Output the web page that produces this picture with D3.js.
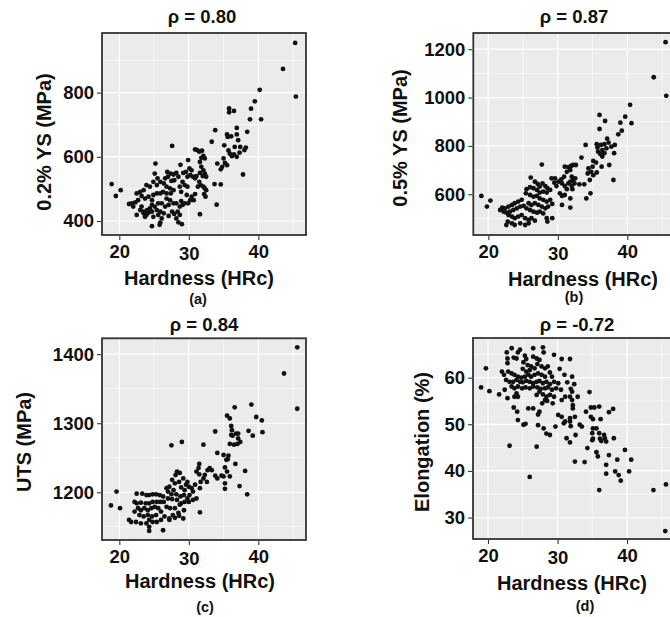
<!DOCTYPE html>
<html>
<head>
<meta charset="utf-8">
<script src="https://cdn.jsdelivr.net/npm/d3@7"></script>
<style>
  body { margin: 0; background: #fff; }
  text { font-family: Arial, "Liberation Sans", sans-serif; font-weight: bold; fill: #111; }
</style>
</head>
<body>
<div id="chart"></div>
<script>
const xTicks = [20, 30, 40];

// (a) hardness vs 0.2% YS
const hardA = [45.3,43.55,45.4,40.2,39.5,38.95,38.8,40.4,38.4,35.8,35.8,36.5,36.9,36.9,35.5,35.6,36.1,33.8,33.3,37.1,36.6,37.4,38.2,38.0,35.1,35.7,35.9,36.2,36.5,36.9,37.3,35.0,35.2,35.5,34.8,34.1,34.6,37.8,34.6,33.7,34.0,27.6,30.9,31.2,31.5,31.9,32.1,32.3,31.8,29.9,28.8,31.6,31.8,32.1,32.3,32.5,32.0,31.6,31.5,31.7,31.3,32.1,32.3,32.5,32.2,32.4,30.9,31.6,30.1,30.4,29.6,29.2,29.8,30.2,30.6,30.9,31.1,29.1,29.4,28.7,29.8,28.9,29.7,28.9,29.4,29.1,28.7,28.4,28.7,28.2,29.0,28.5,25.2,26.9,27.4,27.8,28.2,28.5,27.9,27.5,27.0,26.6,25.1,25.5,24.9,25.9,26.4,25.4,24.4,23.9,26.8,27.3,27.8,27.4,26.8,26.3,25.9,25.4,24.9,23.5,23.0,22.5,23.2,23.7,24.2,24.7,22.7,22.3,21.8,21.4,22.0,26.8,27.3,27.8,28.2,27.1,26.6,26.1,25.6,25.1,24.7,24.4,24.0,23.5,23.2,24.2,24.7,25.4,25.9,26.4,27.6,27.9,27.1,26.1,25.6,24.9,23.9,23.5,23.0,22.5,23.7,24.7,25.9,25.8,18.9,19.5,20.2,30.4,30.7,30.2,29.9];
const ys02 = [955,874,788,809,773,750,717,717,678,751,739,743,690,670,670,662,664,683,647,652,631,631,629,621,636,620,610,602,608,600,613,595,581,574,569,579,561,545,514,515,451,634,623,621,616,619,603,595,597,590,575,584,569,558,548,538,540,550,522,512,507,507,502,496,484,476,484,421,564,558,553,550,538,543,538,533,540,522,512,507,507,491,481,462,455,450,445,429,419,408,390,396,579,553,548,545,550,538,527,525,538,533,548,533,522,522,517,512,507,512,507,502,496,486,486,491,486,486,481,496,491,486,478,470,476,465,465,458,455,453,445,470,465,455,455,450,445,455,455,445,450,439,434,429,445,426,429,434,429,424,429,422,416,408,419,413,419,424,434,419,413,384,395,388,515,478,496,476,465,465,455];

// (b) hardness vs 0.5% YS
const hardB = [45.5,43.8,45.6,40.4,39.7,40.6,39.0,39.2,38.7,36.0,36.8,36.0,37.1,37.3,36.7,36.2,35.7,35.6,36.4,37.0,38.2,37.7,35.8,36.4,36.1,36.7,38.1,34.0,33.4,35.1,35.5,35.0,36.3,37.4,38.0,34.4,34.8,34.3,35.1,35.6,34.6,33.1,33.8,34.7,34.1,27.7,31.0,31.5,31.9,32.2,32.6,31.8,31.3,32.0,32.2,32.5,31.8,31.5,32.4,32.0,32.1,31.3,31.0,30.9,30.5,30.1,30.6,29.6,29.1,29.5,29.8,30.3,31.0,31.8,31.8,30.6,26.1,26.7,27.1,27.4,27.8,28.2,28.5,28.9,28.4,27.9,27.4,27.0,26.5,26.0,25.5,25.4,26.0,26.5,27.0,27.4,27.9,28.4,28.9,29.2,28.6,28.2,27.7,27.2,26.7,26.2,25.8,24.8,24.3,23.8,23.4,22.9,22.4,22.0,21.7,22.2,22.6,23.1,23.6,24.1,24.6,25.1,25.5,26.0,26.5,27.0,27.4,27.9,22.9,23.4,23.8,24.3,24.8,25.3,25.8,26.2,26.7,25.8,25.3,24.6,23.8,23.4,22.8,22.6,28.4,29.2,28.5,19.0,19.8,20.3,30.6];
const ys05 = [1229,1084,1007,970,921,894,896,863,848,928,903,870,830,814,807,804,793,807,783,790,804,797,776,756,767,770,770,804,752,738,731,714,714,721,659,707,693,686,679,690,659,641,641,604,583,723,714,712,717,721,721,700,693,673,659,666,652,645,645,634,621,621,634,673,662,652,645,666,666,648,634,604,597,583,545,556,669,652,643,632,645,634,625,618,607,611,607,618,625,629,621,604,597,590,593,583,577,570,577,560,549,542,549,556,563,556,563,577,570,563,556,549,542,545,535,528,524,528,535,542,549,552,542,535,528,524,528,521,514,508,501,508,514,501,494,501,491,480,473,480,473,480,487,473,501,501,487,593,549,574,593];

// (c) hardness vs UTS
const hardC = [45.6,43.7,45.6,39.0,36.6,35.5,35.9,39.7,40.5,33.8,36.1,36.2,36.8,37.1,38.6,39.2,40.6,36.1,36.3,35.9,36.5,37.0,37.4,37.1,27.5,29.0,32.1,34.1,35.0,35.4,35.7,35.6,36.7,38.1,37.3,38.4,35.2,35.5,33.8,34.1,34.7,35.0,35.2,35.9,35.2,33.0,32.7,33.3,32.3,32.1,32.6,31.7,31.5,31.4,31.1,31.5,31.6,30.9,30.4,30.6,31.1,31.6,28.3,28.7,28.1,29.2,29.8,29.6,30.0,29.4,28.9,28.6,28.0,27.6,27.2,27.8,26.8,27.0,27.5,28.2,28.8,29.3,29.8,30.1,30.6,30.0,29.4,28.9,28.3,27.6,27.0,26.3,25.8,25.3,24.8,24.3,23.9,23.3,22.5,26.4,25.9,25.4,24.8,24.3,23.8,23.1,22.5,22.2,26.8,27.3,28.0,28.7,29.3,28.5,27.7,27.2,26.5,26.0,25.6,25.1,24.6,24.1,23.6,23.1,22.7,22.2,22.9,23.5,24.1,24.7,25.3,26.0,25.4,24.8,24.3,23.9,23.1,22.4,21.7,21.4,24.3,24.3,26.3,27.2,28.0,28.6,29.2,18.8,19.6,20.1];
const uts = [1410,1372,1321,1327,1323,1311,1307,1309,1304,1288,1296,1290,1285,1285,1289,1282,1287,1283,1282,1270,1269,1270,1273,1278,1268,1273,1269,1257,1254,1247,1253,1248,1241,1231,1209,1197,1236,1230,1224,1220,1224,1223,1213,1223,1205,1235,1232,1232,1225,1220,1215,1215,1241,1235,1230,1226,1206,1211,1206,1201,1191,1171,1230,1228,1225,1220,1215,1211,1208,1203,1207,1215,1213,1218,1208,1203,1206,1201,1197,1197,1194,1196,1191,1196,1189,1186,1186,1184,1189,1190,1191,1194,1196,1197,1197,1196,1196,1198,1198,1186,1186,1186,1186,1184,1184,1185,1184,1186,1179,1177,1177,1182,1174,1170,1167,1162,1165,1172,1177,1179,1177,1174,1177,1174,1177,1172,1167,1165,1167,1165,1167,1160,1157,1157,1160,1155,1155,1157,1157,1160,1150,1144,1145,1160,1163,1166,1162,1181,1201,1177];

// (d) hardness vs elongation
const hardD = [45.5,45.6,43.8,36.0,26.0,23.1,27.0,19.0,19.7,20.2,21.6,22.4,22.7,23.4,24.3,24.6,26.5,27.9,28.0,22.8,23.7,24.1,25.3,25.5,25.1,22.8,26.5,27.0,27.4,29.5,30.6,31.8,25.7,26.2,26.7,27.1,27.7,28.2,28.6,26.0,25.5,25.0,22.0,22.3,22.9,23.4,23.8,24.3,24.8,25.3,25.8,26.2,26.7,27.2,27.7,28.2,28.9,29.2,30.3,31.0,32.1,22.6,23.1,23.6,24.1,24.6,25.0,25.5,26.0,26.5,27.0,27.4,27.9,28.4,28.9,29.5,30.1,31.4,32.4,23.4,23.8,24.3,24.9,25.4,26.0,26.5,27.1,27.6,28.2,28.6,29.2,29.8,30.5,31.9,32.1,32.9,34.6,24.1,23.8,22.8,24.3,27.0,27.4,27.9,28.4,28.9,29.5,28.2,27.8,28.5,29.3,30.6,31.1,31.8,32.1,32.2,32.2,23.7,24.2,25.8,26.5,27.4,27.2,24.3,25.1,25.4,27.2,28.0,28.4,28.9,29.7,30.1,30.6,30.9,31.1,31.8,31.9,31.8,32.5,32.6,31.3,31.8,33.2,33.5,34.1,34.8,35.3,36.0,34.8,35.1,36.2,37.4,38.0,34.3,35.6,35.8,35.1,35.6,35.0,35.0,35.1,36.0,36.1,36.3,36.7,36.8,37.0,38.1,37.4,38.6,39.7,40.6,37.0,38.3,38.8,39.1,37.0,40.3,32.5,33.9];
const elong = [27.1,37.1,35.9,35.9,38.7,45.4,45.2,57.9,62.0,57.1,56.4,57.4,65.4,66.3,65.4,66.0,66.3,66.5,65.4,64.1,64.3,64.1,64.7,64.0,63.3,63.1,64.5,64.1,63.8,64.9,64.0,64.0,62.7,62.4,62.0,62.9,62.4,62.0,62.4,61.6,61.3,61.9,61.3,60.6,61.3,60.9,60.6,60.2,60.0,60.2,60.6,60.2,60.6,60.9,60.6,60.2,61.1,60.2,61.9,60.6,60.2,59.5,59.1,59.1,59.5,59.1,59.0,59.3,59.1,58.8,59.1,59.3,58.8,59.1,58.6,59.1,58.8,59.0,58.6,58.1,57.7,58.1,57.7,57.9,57.7,58.1,57.9,57.6,57.7,57.9,57.4,57.7,57.4,57.6,57.0,55.9,56.9,56.6,55.9,55.6,55.9,56.3,57.0,56.4,55.9,56.3,55.9,55.2,54.5,55.0,54.5,55.2,55.9,55.9,55.2,54.1,53.4,53.6,52.7,53.4,53.4,52.7,52.1,50.9,49.9,50.1,49.8,49.1,48.0,47.7,49.5,52.0,51.6,50.2,50.6,50.6,49.6,51.3,51.6,47.7,47.0,46.1,49.9,49.5,52.7,53.6,53.6,53.8,51.6,51.1,51.1,52.6,53.3,44.9,44.0,43.1,49.1,49.1,48.1,46.6,46.9,48.1,46.9,46.4,47.7,47.0,46.3,47.0,43.4,42.4,44.5,42.4,41.3,39.9,39.1,37.9,39.4,39.9,42.0,41.9];

const width = 670;
const height = 617;

const svg = d3.select('#chart')
  .append('svg')
  .attr('width', width)
  .attr('height', height);

const panels = [
  { xs: hardA, ys: ys02, yTicks: [400, 600, 800], xDom: [17.51, 46.86], yDom: [356.4, 986],
    left: 102, right: 306, top: 33, bottom: 235,
    title: 'ρ = 0.80', titleX: 202, titleY: 23,
    yLabel: '0.2% YS (MPa)', yLabX: 51, yLabY: 142,
    xLabX: 199, xLabY: 285, tag: '(a)', tagX: 198, tagY: 304 },
  { xs: hardB, ys: ys05, yTicks: [600, 800, 1000, 1200], xDom: [17.84, 47.19], yDom: [431.6, 1267],
    left: 473.3, right: 677.3, top: 33, bottom: 235,
    title: 'ρ = 0.87', titleX: 574, titleY: 23,
    yLabel: '0.5% YS (MPa)', yLabX: 407, yLabY: 138,
    xLabX: 583, xLabY: 286, tag: '(b)', tagX: 574, tagY: 302 },
  { xs: hardC, ys: uts, yTicks: [1200, 1300, 1400], xDom: [17.51, 46.86], yDom: [1130.9, 1423],
    left: 102, right: 306, top: 338.3, bottom: 540,
    title: 'ρ = 0.84', titleX: 204, titleY: 331,
    yLabel: 'UTS (MPa)', yLabX: 31, yLabY: 442,
    xLabX: 200, xLabY: 588, tag: '(c)', tagX: 205, tagY: 612 },
  { xs: hardD, ys: elong, yTicks: [30, 40, 50, 60], xDom: [17.84, 47.19], yDom: [25.4, 68.5],
    left: 473, right: 677, top: 338, bottom: 539,
    title: 'ρ = -0.72', titleX: 577, titleY: 331,
    yLabel: 'Elongation (%)', yLabX: 429, yLabY: 442,
    xLabX: 572, xLabY: 590, tag: '(d)', tagX: 585, tagY: 611 }
];

// minor gridlines sit half way between the major ones
function minors(ticks, dom) {
  const step = ticks[1] - ticks[0];
  const out = [];
  for (let v = ticks[0] - step / 2; v <= dom[1]; v += step) {
    if (v >= dom[0]) out.push(v);
  }
  return out;
}

panels.forEach(function(p) {
  const g = svg.append('g');
  const x = d3.scaleLinear().domain(p.xDom).range([p.left, p.right]);
  const y = d3.scaleLinear().domain(p.yDom).range([p.bottom, p.top]);

  g.append('rect')
    .attr('x', p.left).attr('y', p.top)
    .attr('width', p.right - p.left).attr('height', p.bottom - p.top)
    .attr('fill', '#ebebeb');

  // grid
  g.selectAll('.xminor').data(minors(xTicks, p.xDom)).join('line')
    .attr('x1', d => x(d)).attr('x2', d => x(d))
    .attr('y1', p.top).attr('y2', p.bottom)
    .attr('stroke', '#fff').attr('stroke-width', 0.6);
  g.selectAll('.yminor').data(minors(p.yTicks, p.yDom)).join('line')
    .attr('y1', d => y(d)).attr('y2', d => y(d))
    .attr('x1', p.left).attr('x2', p.right)
    .attr('stroke', '#fff').attr('stroke-width', 0.6);
  g.selectAll('.xmajor').data(xTicks).join('line')
    .attr('x1', d => x(d)).attr('x2', d => x(d))
    .attr('y1', p.top).attr('y2', p.bottom)
    .attr('stroke', '#fff').attr('stroke-width', 1.2);
  g.selectAll('.ymajor').data(p.yTicks).join('line')
    .attr('y1', d => y(d)).attr('y2', d => y(d))
    .attr('x1', p.left).attr('x2', p.right)
    .attr('stroke', '#fff').attr('stroke-width', 1.2);

  // points
  g.append('g').attr('fill', '#111')
    .selectAll('circle')
    .data(p.xs.map((h, i) => [h, p.ys[i]]))
    .join('circle')
      .attr('cx', d => x(d[0]))
      .attr('cy', d => y(d[1]))
      .attr('r', 2.4);

  g.append('rect')
    .attr('x', p.left).attr('y', p.top)
    .attr('width', p.right - p.left).attr('height', p.bottom - p.top)
    .attr('fill', 'none').attr('stroke', '#333').attr('stroke-width', 1.8);

  // axes
  const xa = g.append('g')
    .attr('transform', `translate(0,${p.bottom + 1})`)
    .call(d3.axisBottom(x).tickValues(xTicks).tickSize(4).tickPadding(5));
  xa.selectAll('text').attr('dy', d => d === 30 ? '0.8em' : '0.71em');

  const ya = g.append('g')
    .attr('transform', `translate(${p.left - 1},0)`)
    .call(d3.axisLeft(y).tickValues(p.yTicks).tickFormat(d3.format('d')).tickSize(4).tickPadding(3));

  [xa, ya].forEach(function(a) {
    a.select('.domain').remove();
    a.selectAll('line').attr('stroke', '#333').attr('stroke-width', 1.1);
    a.selectAll('text').attr('font-size', '18.5px').attr('fill', '#111')
      .style('font-family', 'Arial, "Liberation Sans", sans-serif').style('font-weight', 'bold');
  });

  svg.append('text')
    .attr('x', p.titleX).attr('y', p.titleY)
    .attr('text-anchor', 'middle')
    .attr('font-size', '18.5px')
    .text(p.title);

  svg.append('text')
    .attr('x', p.xLabX).attr('y', p.xLabY)
    .attr('text-anchor', 'middle')
    .attr('font-size', '20px')
    .text('Hardness (HRc)');

  svg.append('text')
    .attr('transform', `translate(${p.yLabX},${p.yLabY}) rotate(-90)`)
    .attr('text-anchor', 'middle')
    .attr('font-size', '20px')
    .text(p.yLabel);

  svg.append('text')
    .attr('x', p.tagX).attr('y', p.tagY)
    .attr('text-anchor', 'middle')
    .attr('font-size', '14.5px')
    .text(p.tag);
});
</script>
</body>
</html>
